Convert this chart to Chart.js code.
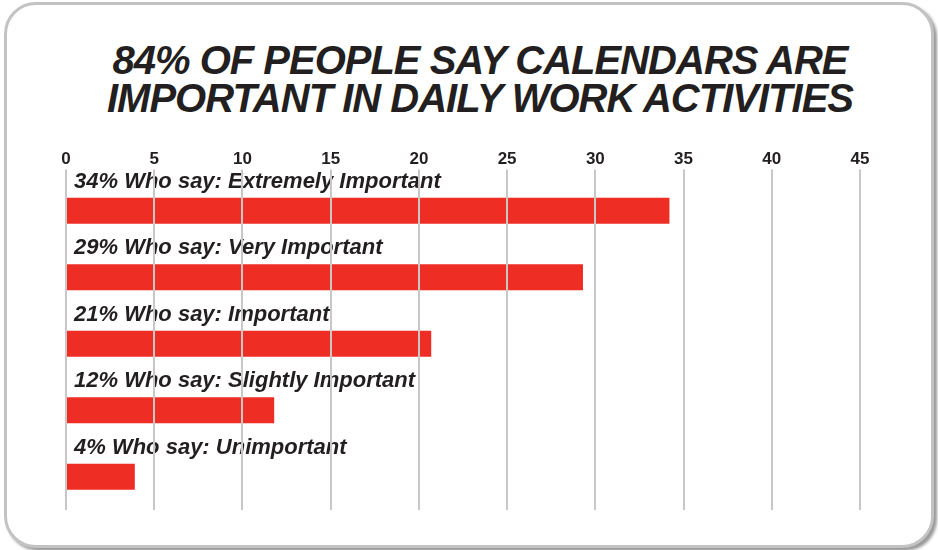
<!DOCTYPE html>
<html lang="en">
<head>
  <meta charset="UTF-8" />
  <title>Calendars Importance</title>
  <script src="https://cdn.jsdelivr.net/npm/chart.js"></script>
  <style>
    body {
      margin: 0;
      background: #ffffff;
      width: 938px;
      height: 550px;
      position: relative;
      overflow: hidden;
      font-family: 'Liberation Sans', Arial, sans-serif;
    }

    .card {
      position: absolute;
      left: 4px;
      top: 2px;
      width: 924px;
      height: 540px;
      border: 3px solid #c3c3c5;
      border-radius: 32px;
      background: #fff;
      box-shadow: 3px 3px 3px #9a9a9a;
    }

    h1 {
      position: absolute;
      left: 0;
      top: 41px;
      width: 960px;
      margin: 0;
      text-align: center;
      font-size: 40px;
      line-height: 38px;
      letter-spacing: -1px;
      font-weight: bold;
      font-style: italic;
      color: #231f20;
    }

    .chart-box {
      position: absolute;
      left: 0;
      top: 0;
      width: 938px;
      height: 550px;
    }
  </style>
</head>
<body>

  <div class="card"></div>
  <h1>84% OF PEOPLE SAY CALENDARS ARE<br>IMPORTANT IN DAILY WORK ACTIVITIES</h1>

  <div class="chart-box">
    <canvas id="calChart"></canvas>
  </div>

  <script>
    // values
    const categories = [
      '34% Who say: Extremely Important',
      '29% Who say: Very Important',
      '21% Who say: Important',
      '12% Who say: Slightly Important',
      '4% Who say: Unimportant'
    ];
    const shares = [34.2, 29.3, 20.7, 11.8, 3.9];
    const tickValues = [0, 5, 10, 15, 20, 25, 30, 35, 40, 45];

    // text above each bar
    const barLabels = {
      id: 'barLabels',
      afterDatasetsDraw(chart) {
        const ctx = chart.ctx;
        const meta = chart.getDatasetMeta(0);
        const x0 = chart.scales.x.getPixelForValue(0);
        ctx.save();
        ctx.font = 'italic bold 22px "Liberation Sans", Arial, sans-serif';
        ctx.fillStyle = '#231f20';
        ctx.textBaseline = 'alphabetic';
        ctx.textAlign = 'left';
        meta.data.forEach((bar, i) => {
          ctx.fillText(chart.data.labels[i], x0 + 8, bar.y - bar.height / 2 - 10);
        });
        ctx.restore();
      }
    };

    const ctx = document.getElementById('calChart').getContext('2d');
    new Chart(ctx, {
      type: 'bar',
      data: {
        labels: categories,
        datasets: [{
          data: shares,
          backgroundColor: '#ee2e24',
          borderWidth: 0,
          barPercentage: 0.39,
          categoryPercentage: 1
        }]
      },
      options: {
        indexAxis: 'y',
        responsive: true,
        maintainAspectRatio: false,
        animation: false,
        layout: {
          padding: { left: 66, right: 78, top: 149, bottom: 40 }
        },
        plugins: {
          legend: { display: false },
          tooltip: { enabled: false }
        },
        scales: {
          x: {
            position: 'top',
            min: 0,
            max: 45,
            afterBuildTicks(axis) {
              axis.ticks = tickValues.map(v => ({ value: v }));
            },
            border: { display: false },
            grid: {
              z: 1,
              color: '#c8c8c8',
              lineWidth: 2,
              tickLength: 8
            },
            ticks: {
              padding: 0,
              color: '#231f20',
              font: { family: '"Liberation Sans", Arial, sans-serif', size: 17, weight: 'bold' }
            }
          },
          y: {
            display: false
          }
        }
      },
      plugins: [barLabels]
    });
  </script>
</body>
</html>
